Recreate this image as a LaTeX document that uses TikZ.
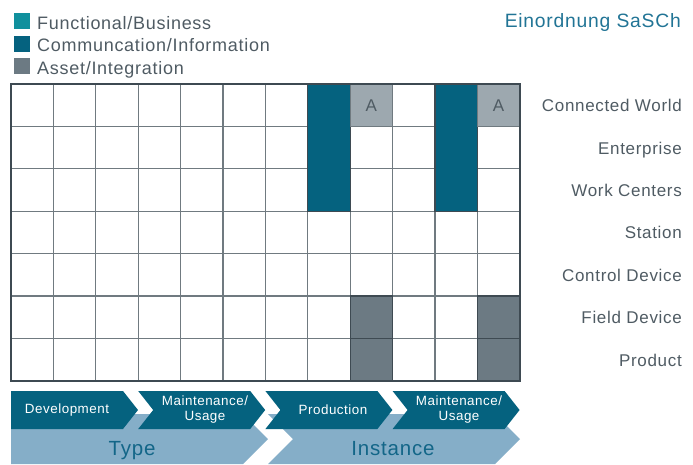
\documentclass[tikz,border=0pt]{standalone}
\usepackage{fontspec}
\setmainfont{Liberation Sans}[LetterSpace=4]
\definecolor{functeal}{HTML}{10909D}
\definecolor{commblue}{HTML}{05627F}
\definecolor{assetgray}{HTML}{6C7A83}
\definecolor{acell}{HTML}{9DA8AF}
\definecolor{band}{HTML}{85AEC8}
\definecolor{txtgray}{HTML}{4F5B63}
\definecolor{titleblue}{HTML}{217495}
\definecolor{bandtxt}{HTML}{136688}
\definecolor{gridin}{HTML}{707A80}
\definecolor{gridout}{HTML}{3E4A52}
\tikzset{
  legsq/.style={fill=#1, draw=none},
  legtxt/.style={anchor=base west, inner sep=0pt, text=txtgray, font=\fontsize{18}{20}\selectfont},
  rowlbl/.style={anchor=base east, inner sep=0pt, text=txtgray, font=\fontsize{17}{20}\selectfont},
  chevtxt/.style={align=center, inner sep=0pt, text=white, font=\fontsize{13.4}{15}\selectfont},
  bandlbl/.style={anchor=base, inner sep=0pt, text=bandtxt, font=\fontsize{20.5}{22}\selectfont},
  atxt/.style={inner sep=0pt, text=txtgray, font=\fontsize{17}{18}\selectfont},
  chev/.style={fill=commblue, draw=none},
  lband/.style={fill=band, draw=none},
}
\begin{document}
\begin{tikzpicture}[x=1pt,y=-1pt]
\useasboundingbox (0,0) rectangle (693,464);
% legend
\fill[legsq=functeal] (14,13) rectangle (30,29);
\fill[legsq=commblue] (14,35.5) rectangle (30,51.5);
\fill[legsq=assetgray] (14,58) rectangle (30,74);
\node[legtxt] (lg1) at (37,29) {Functional/Business};
\node[legtxt] (lg2) at (37,51.5) {Communcation/Information};
\node[legtxt] (lg3) at (37,74) {Asset/Integration};
\node[anchor=base east, inner sep=0pt, text=titleblue, font=\fontsize{19.3}{21}\selectfont] (title) at (681,27.5) {Einordnung SaSCh};
% grid cells
\def\cw{42.4}
\foreach \i in {1,...,11} \draw[gridin, line width=1.3pt] (11+\cw*\i,84) -- (11+\cw*\i,381);
\foreach \j in {1,...,6} \draw[gridin, line width=1.3pt] (11,84+\cw*\j) -- (520,84+\cw*\j);
% coloured blocks
\foreach \c in {7,10} {
  \filldraw[fill=commblue, draw=gridout, line width=1.3pt] (11+\cw*\c,84) rectangle (11+\cw*\c+\cw,84+3*\cw);
}
\foreach \c in {8,11} {
  \filldraw[fill=acell, draw=gridin, line width=1.3pt] (11+\cw*\c,84) rectangle (11+\cw*\c+\cw,84+\cw);
  \filldraw[fill=assetgray, draw=gridout, line width=1.3pt] (11+\cw*\c,84+5*\cw) rectangle (11+\cw*\c+\cw,84+6*\cw);
  \filldraw[fill=assetgray, draw=gridout, line width=1.3pt] (11+\cw*\c,84+6*\cw) rectangle (11+\cw*\c+\cw,84+7*\cw);
}
\node[atxt] (a1) at (11+8.5*\cw,84+0.5*\cw) {A};
\node[atxt] (a2) at (11+11.5*\cw,84+0.5*\cw) {A};
\draw[gridout, line width=1.4pt] (11,84) rectangle (520,381);
% row labels
\foreach \t [count=\k from 0] in {Connected World,Enterprise,Work Centers,Station,Control Device,Field Device,Product}
  \node[rowlbl] (row\k) at (682,84+\cw*\k+0.5*\cw+6.5) {\t};
% light bands
\fill[lband] (11,414) -- (243,414) -- (268,439) -- (243,464) -- (11,464) -- cycle;
\fill[lband] (268,414) -- (495,414) -- (520,439) -- (495,464) -- (268,464) -- (293,439) -- cycle;
\node[bandlbl] (type) at (132,455) {Type};
\node[bandlbl] (inst) at (393,455) {Instance};
% dark chevrons
\fill[chev] (11,391) -- (123,391) -- (138,410) -- (123,429) -- (11,429) -- cycle;
\foreach \x in {138.2,265.4,392.6}
  \fill[chev] (\x,391) -- (\x+112,391) -- (\x+127,410) -- (\x+112,429) -- (\x,429) -- (\x+15,410) -- cycle;
\node[chevtxt] (c1) at (67,410) {Development};
\node[chevtxt] (c2) at (205,410) {Maintenance/\\Usage};
\node[chevtxt] (c3) at (333,410) {Production};
\node[chevtxt] (c4) at (459,410) {Maintenance/\\Usage};
\end{tikzpicture}
\end{document}
